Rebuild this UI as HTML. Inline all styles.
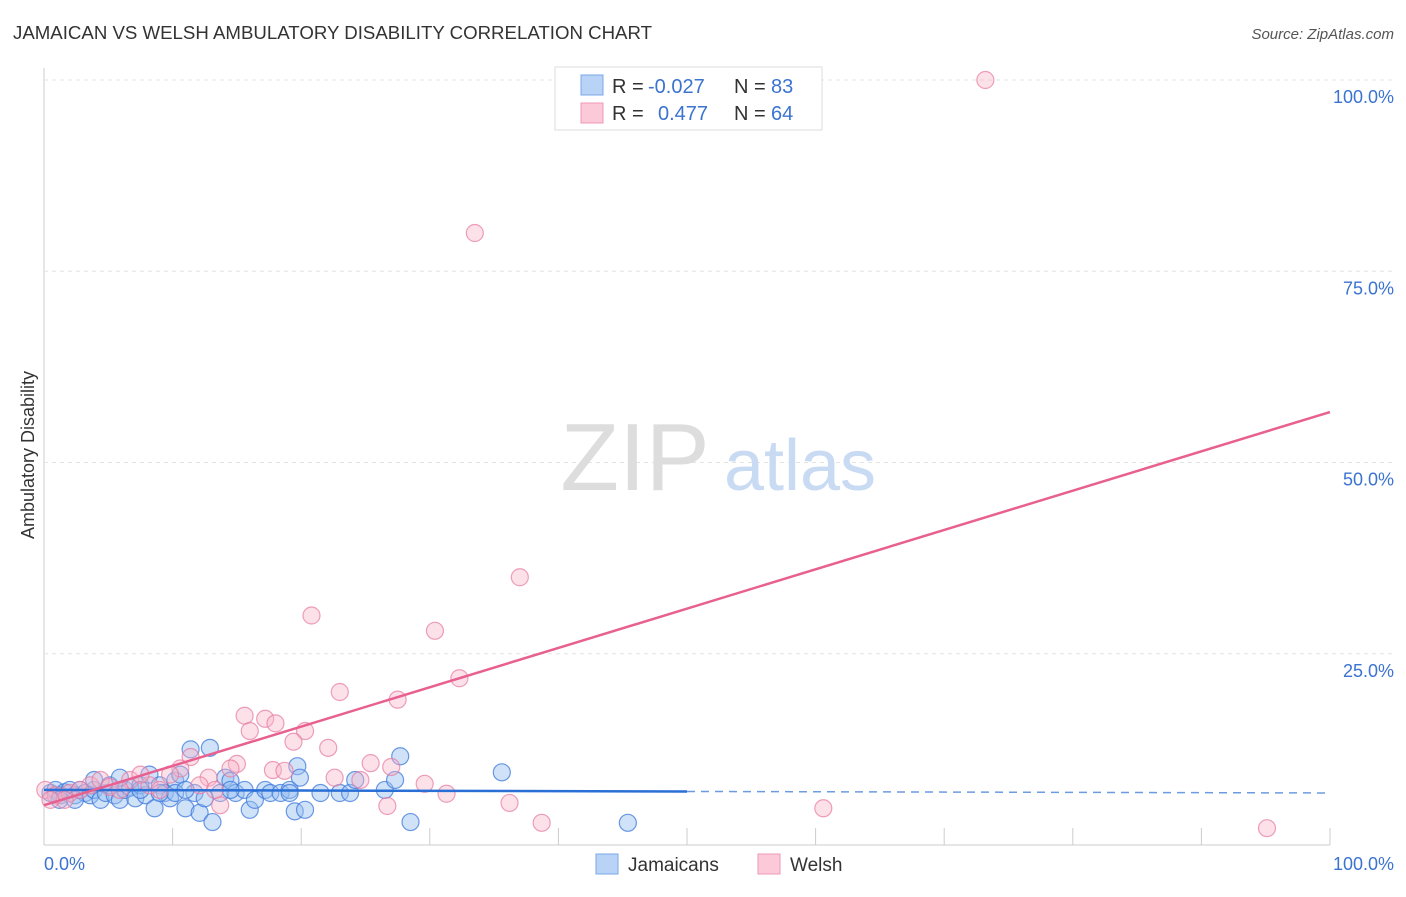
<!DOCTYPE html>
<html><head><meta charset="utf-8"><style>
body{margin:0;background:#fff;font-family:"Liberation Sans",sans-serif;}
svg text{font-family:"Liberation Sans",sans-serif;}
</style></head><body>
<svg id="c" width="1406" height="892">
<text x="13" y="39" font-size="18" fill="#333" textLength="639" lengthAdjust="spacingAndGlyphs">JAMAICAN VS WELSH AMBULATORY DISABILITY CORRELATION CHART</text>
<text x="1394" y="39" font-size="15" fill="#555" font-style="italic" text-anchor="end">Source: ZipAtlas.com</text>
<g id="grid"></g>
<text x="635" y="490" font-size="96" fill="#ddd" font-family="Liberation Serif" text-anchor="middle">ZIP</text>
<text x="800" y="490" font-size="72" fill="#c9daf3" text-anchor="middle">atlas</text>
<g id="pts"></g>
<g id="lines"></g>
<text x="34" y="455" font-size="18" fill="#333" transform="rotate(-90 34 455)" text-anchor="middle">Ambulatory Disability</text>
<text x="44" y="870" font-size="18" fill="#3b73d1">0.0%</text>
<text x="1394" y="870" font-size="18" fill="#3b73d1" text-anchor="end">100.0%</text>
<g>
<rect x="555" y="67" width="267" height="63" fill="#fff" stroke="#ddd"/>
<rect x="581" y="75" width="22" height="20" fill="#b8d3f5" stroke="#7aa7e6"/>
<rect x="581" y="103" width="22" height="20" fill="#fcc9d8" stroke="#ee9ab4"/>
<text x="612" y="93" font-size="20" fill="#333">R =</text><text x="648" y="93" font-size="20" fill="#3b73d1">-0.027</text>
<text x="734" y="93" font-size="20" fill="#333">N =</text><text x="771" y="93" font-size="20" fill="#3b73d1">83</text>
<text x="612" y="120" font-size="20" fill="#333">R =</text><text x="658" y="120" font-size="20" fill="#3b73d1">0.477</text>
<text x="734" y="120" font-size="20" fill="#333">N =</text><text x="771" y="120" font-size="20" fill="#3b73d1">64</text>
</g>
<g><rect x="596" y="854" width="22" height="20" fill="#b8d3f5" stroke="#7aa7e6"/><text x="628" y="871" font-size="19" fill="#333">Jamaicans</text></g>
<g><rect x="758" y="854" width="22" height="20" fill="#fcc9d8" stroke="#ee9ab4"/><text x="790" y="871" font-size="19" fill="#333">Welsh</text></g>
</svg>
<script>
const yTicks=[100,75,50,25];
const yTickLabels=["100.0%","75.0%","50.0%","25.0%"];
const xTicks=[0,10,20,30,40,50,60,70,80,90,100];
const blueX=[0.5,0.9,1.3,1.6,2,2.4,2.8,3.2,3.6,3.9,4.4,4.8,5.1,5.5,5.9,6.3,6.7,7.1,7.5,7.9,8.2,8.6,9,9.4,9.8,10.2,10.6,11,11.4,11.7,12.1,12.5,12.9,13.1,13.7,14.1,14.5,14.9,15.6,16,16.4,17.2,17.6,18.4,19.1,19.5,19.7,19.9,20.3,21.5,23,23.8,24.2,26.5,27.3,27.7,28.5,35.6,45.4,1.2,2.4,3.9,5.9,9,10.2,14.5,19.1,11,7.5];
const blueY=[6.8,7.2,6.5,6.9,7.2,6.5,7.2,6.8,6.5,7.2,5.9,6.8,7.8,6.5,5.9,7.2,7.5,6.1,7.8,6.5,9.2,4.8,7.8,6.8,6.1,8.4,9.2,4.8,12.5,6.8,4.2,6.1,12.7,3,6.8,8.8,8.4,6.8,7.2,4.6,5.9,7.2,6.8,6.8,7.2,4.4,10.3,8.8,4.6,6.8,6.8,6.8,8.5,7.2,8.5,11.6,3,9.5,2.9,5.9,5.9,8.5,8.8,6.8,6.8,7.2,6.8,7.2,7.2];
const pinkX=[73.2,33.5,37,20.8,30.4,32.3,23,27.5,15.6,17.2,18,16,20.3,19.4,22.1,11.4,15,25.4,27,10.6,14.5,17.8,18.7,22.6,12.8,29.6,31.3,24.6,36.2,26.7,60.6,38.7,95.1,13.7,0.1,0.9,2,3.6,4.4,5.1,6.7,8.2,9,9.8,12.1,13.3,5.9,7.5,2.8,1.6,0.5];
const pinkY=[100,80,35,30,28,21.8,20,19,16.9,16.5,15.9,14.9,14.9,13.5,12.7,11.5,10.6,10.7,10.2,10,10,9.8,9.7,8.8,8.8,8,6.7,8.5,5.5,5.1,4.8,2.9,2.2,5.2,7.2,6.5,6.8,7.8,8.5,7.6,8.5,7.8,7.2,9.2,7.8,7.2,7.2,9.2,7.2,5.9,5.9];
const pinkTrend=[5.2,56.6];
const blueTrend=[7.2,6.8];
const X=v=>44+v*12.86, Y=v=>845-v*7.65;
const NS="http://www.w3.org/2000/svg";
function mk(t,a,p){const e=document.createElementNS(NS,t);for(const k in a)e.setAttribute(k,a[k]);p.appendChild(e);return e;}
const g=document.getElementById('grid');
mk('line',{x1:44,y1:68,x2:44,y2:845,stroke:'#ccc'},g);
mk('line',{x1:44,y1:845,x2:1330,y2:845,stroke:'#ccc'},g);
yTicks.forEach((v,i)=>{
 const l=mk('line',{x1:44,y1:Y(v),x2:1394,y2:Y(v),stroke:'#e3e3e3','stroke-dasharray':'4,4'},g);
 
 
 const t=mk('text',{x:1394,y:Y(v)+23,'font-size':18,fill:'#3b73d1','text-anchor':'end'},g);
 t.textContent=yTickLabels[i];
 
 
});
xTicks.forEach(v=>{
 const l=mk('line',{x1:X(v),y1:828,x2:X(v),y2:845,stroke:'#ccc'},g);
 
 
});
const P=document.getElementById('pts');
blueX.forEach((v,i)=>{
 const c=mk('circle',{cx:X(v),cy:Y(blueY[i]),r:8.5,fill:'rgba(150,190,240,0.45)',stroke:'rgba(60,120,220,0.75)','stroke-width':1.2},P);
 
 
});
pinkX.forEach((v,i)=>{
 const c=mk('circle',{cx:X(v),cy:Y(pinkY[i]),r:8.5,fill:'rgba(250,180,200,0.4)',stroke:'rgba(230,120,160,0.7)','stroke-width':1.2},P);
 
 
});
const L=document.getElementById('lines');
const bm=blueTrend[0]+(blueTrend[1]-blueTrend[0])*0.5;
const b1=mk('line',{x1:X(0),y1:Y(blueTrend[0]),x2:X(50),y2:Y(bm),stroke:'#2a6fd6','stroke-width':2.5},L);


const b2=mk('line',{x1:X(50),y1:Y(bm),x2:X(100),y2:Y(blueTrend[1]),stroke:'#6d9be0','stroke-width':1.5,'stroke-dasharray':'8,6'},L);


const p1=mk('line',{x1:X(0),y1:Y(pinkTrend[0]),x2:X(100),y2:Y(pinkTrend[1]),stroke:'#e8608f','stroke-width':2.5},L);


</script>
</body></html>
